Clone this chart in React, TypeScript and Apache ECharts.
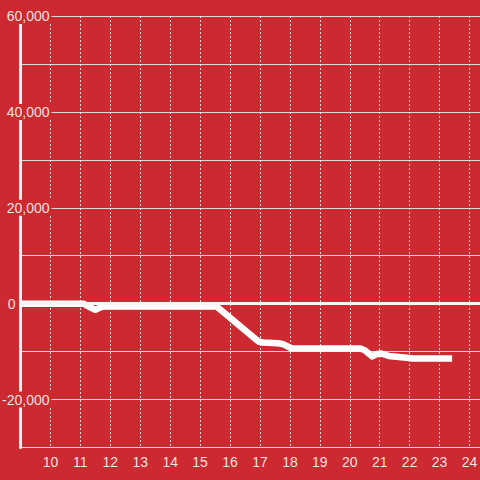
import React, { useEffect, useRef } from "react";
import * as echarts from "echarts";

const xValues = [9, 11.1, 11.3, 11.5, 11.7, 11.85, 15.55, 16.95, 17.1, 17.6, 17.75, 18.05, 20.35, 20.5, 20.75, 20.9, 21.05, 21.3, 21.9, 22.1, 23.42];
const yValues = [0, 0, -700, -1250, -700, -550, -600, -7900, -8100, -8250, -8400, -9300, -9350, -9700, -11000, -10500, -10400, -10900, -11300, -11450, -11450];
const yLabelValues = [60000, 40000, 20000, 0, -20000];

const BG = "#cc2a30";

function fmt(v: number): string {
  const s = Math.abs(v).toString().replace(/\B(?=(\d{3})+(?!\d))/g, ",");
  return (v < 0 ? "-" : "") + s;
}

export default function App() {
  const ref = useRef<HTMLDivElement>(null);
  useEffect(() => {
    if (!ref.current) return;
    const chart = echarts.init(ref.current, undefined, { renderer: "svg" });
    const data = xValues.map((x, i) => [x, yValues[i]]);
    chart.setOption({
      animation: false,
      backgroundColor: BG,
      grid: {
        left: 20.5,
        right: 0,
        top: 16,
        bottom: 32.5,
        containLabel: false,
        outerBoundsMode: "none",
      },
      xAxis: {
        type: "value",
        min: 9,
        max: 24.35,
        interval: 1,
        axisLine: { show: false },
        axisTick: { show: false },
        axisLabel: {
          color: "rgba(255,255,255,0.88)",
          fontSize: 14,
          fontFamily: "Liberation Sans, Arial, sans-serif",
          margin: 7,
          showMinLabel: false,
          showMaxLabel: false,
        },
        splitLine: {
          show: true,
          lineStyle: { color: "rgba(255,255,255,0.8)", width: 1, type: [2, 2] },
        },
      },
      yAxis: {
        type: "value",
        min: -30000,
        max: 60000,
        interval: 10000,
        axisLine: { show: true, onZero: false, lineStyle: { color: "#f2f2f2", width: 3 } },
        axisTick: { show: false },
        axisLabel: {
          margin: -31,
          fontSize: 14,
          fontFamily: "Liberation Sans, Arial, sans-serif",
          color: "rgba(255,255,255,0.88)",
          formatter: (v: number) => {
            if (!yLabelValues.includes(v)) return "";
            if (v === 0) return "{z|0}";
            return "{n|" + fmt(v) + "}";
          },
          rich: {
            n: {
              backgroundColor: BG,
              padding: [1, 2, 1, 2],
              fontSize: 14,
              fontFamily: "Liberation Sans, Arial, sans-serif",
              color: "rgba(255,255,255,0.88)",
            },
            z: {
              padding: [0, 36, 0, 0],
              fontSize: 14,
              fontFamily: "Liberation Sans, Arial, sans-serif",
              color: "rgba(255,255,255,0.88)",
            },
          },
        },
        splitLine: { show: true, lineStyle: { color: "#d9d9d9", width: 1 } },
      },
      series: [
        {
          type: "line",
          data,
          showSymbol: false,
          symbol: "none",
          lineStyle: { color: "#ffffff", width: 6.5, cap: "butt", join: "round" },
          markLine: {
            silent: true,
            symbol: ["none", "none"],
            label: { show: false },
            lineStyle: { color: "#f4f4f4", width: 3, type: "solid" },
            data: [{ yAxis: 0 }],
          },
        },
      ],
    });
    return () => chart.dispose();
  }, []);
  return (
    <div
      ref={ref}
      style={{ position: "fixed", left: 0, top: 0, width: 480, height: 480 }}
    />
  );
}
